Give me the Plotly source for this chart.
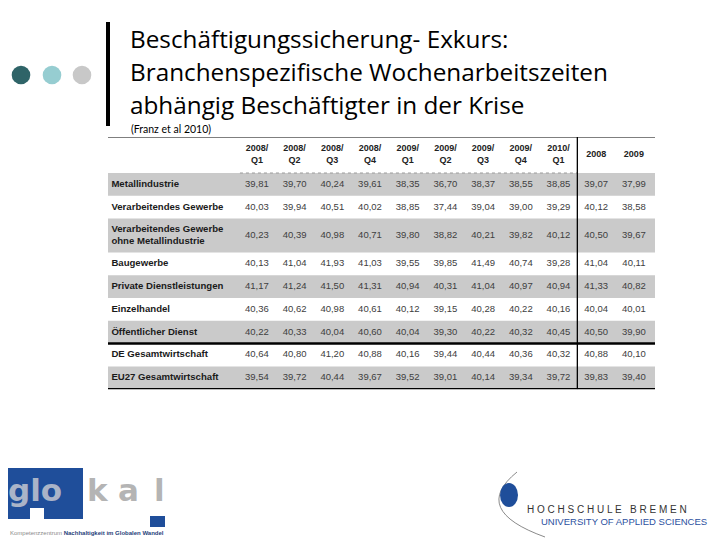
import plotly.graph_objects as go

# slide text
title_lines = ["Beschäftigungssicherung- Exkurs:",
               "Branchenspezifische Wochenarbeitszeiten",
               "abhängig Beschäftigter in der Krise"]
source = "(Franz et al 2010)"

# table data (weekly working hours)
columns = ["2008/<br>Q1", "2008/<br>Q2", "2008/<br>Q3", "2008/<br>Q4",
           "2009/<br>Q1", "2009/<br>Q2", "2009/<br>Q3", "2009/<br>Q4",
           "2010/<br>Q1", "2008", "2009"]

sectors = ["Metallindustrie", "Verarbeitendes Gewerbe",
           "Verarbeitendes Gewerbe<br>ohne Metallindustrie", "Baugewerbe",
           "Private Dienstleistungen", "Einzelhandel", "Öffentlicher Dienst",
           "DE Gesamtwirtschaft", "EU27 Gesamtwirtschaft"]

metall = [39.81, 39.70, 40.24, 39.61, 38.35, 36.70, 38.37, 38.55, 38.85, 39.07, 37.99]
verarb = [40.03, 39.94, 40.51, 40.02, 38.85, 37.44, 39.04, 39.00, 39.29, 40.12, 38.58]
verarb_ohne = [40.23, 40.39, 40.98, 40.71, 39.80, 38.82, 40.21, 39.82, 40.12, 40.50, 39.67]
bau = [40.13, 41.04, 41.93, 41.03, 39.55, 39.85, 41.49, 40.74, 39.28, 41.04, 40.11]
private_dl = [41.17, 41.24, 41.50, 41.31, 40.94, 40.31, 41.04, 40.97, 40.94, 41.33, 40.82]
einzelhandel = [40.36, 40.62, 40.98, 40.61, 40.12, 39.15, 40.28, 40.22, 40.16, 40.04, 40.01]
oeffentlich = [40.22, 40.33, 40.04, 40.60, 40.04, 39.30, 40.22, 40.32, 40.45, 40.50, 39.90]
de_gesamt = [40.64, 40.80, 41.20, 40.88, 40.16, 39.44, 40.44, 40.36, 40.32, 40.88, 40.10]
eu27_gesamt = [39.54, 39.72, 40.44, 39.67, 39.52, 39.01, 40.14, 39.34, 39.72, 39.83, 39.40]

rows = [metall, verarb, verarb_ohne, bau, private_dl, einzelhandel,
        oeffentlich, de_gesamt, eu27_gesamt]

W, H = 720, 540
OFF = 8  # the page body adds an 8px margin around the figure
TABLE_TOP = 137


def px(x):
    return (x - OFF) / W


def py(y):
    return 1 - (y - OFF) / H


# row geometry (in pixels below the top rule)
header_h = 36
tops, heights, centers = [], [], []
y = header_h
for s in sectors:
    h = 22.8 + 11 * s.count("<br>")
    tops.append(y)
    heights.append(h)
    centers.append(y + h / 2)
    y += h
total = y

fig = go.Figure()

# row labels
fig.add_trace(go.Scatter(
    x=[-3.86] * len(sectors), y=centers, mode="text",
    text=["<b>" + s + "</b>" for s in sectors],
    textposition="middle right",
    textfont=dict(family="Liberation Sans", size=9.6, color="#1a1a1a"),
    hoverinfo="skip"))

# header
fig.add_trace(go.Scatter(
    x=list(range(len(columns))), y=[17.5] * len(columns), mode="text",
    text=["<b>" + c + "</b>" for c in columns],
    textposition="middle center",
    textfont=dict(family="Liberation Sans", size=9, color="#222222"),
    hoverinfo="skip"))

# values
xs, ys, txt = [], [], []
for c, vals in zip(centers, rows):
    for i, v in enumerate(vals):
        xs.append(i)
        ys.append(c)
        txt.append(f"{v:.2f}".replace(".", ","))
fig.add_trace(go.Scatter(
    x=xs, y=ys, mode="text", text=txt, textposition="middle center",
    textfont=dict(family="Liberation Sans", size=9.5, color="#404040"),
    hoverinfo="skip"))

shapes = []
# grey bands
for i in range(0, len(sectors), 2):
    shapes.append(dict(type="rect", xref="x domain", yref="y", x0=0, x1=1,
                       y0=tops[i], y1=tops[i] + heights[i],
                       fillcolor="#cacaca", line_width=0, layer="below"))
# rules
shapes.append(dict(type="line", xref="x domain", yref="y", x0=0, x1=1, y0=0, y1=0,
                   line=dict(color="black", width=1)))
shapes.append(dict(type="line", xref="x", yref="y", x0=-0.45, x1=8.5,
                   y0=header_h, y1=header_h,
                   line=dict(color="#9a9a9a", width=1, dash="dot")))
shapes.append(dict(type="line", xref="x domain", yref="y", x0=0, x1=1,
                   y0=tops[7], y1=tops[7], line=dict(color="black", width=2.5)))
shapes.append(dict(type="line", xref="x domain", yref="y", x0=0, x1=1,
                   y0=total, y1=total, line=dict(color="black", width=2.5)))
shapes.append(dict(type="line", xref="x", yref="y", x0=8.5, x1=8.5,
                   y0=0, y1=total, line=dict(color="black", width=1.3)))

# slide decoration: vertical bar and three dots
shapes.append(dict(type="rect", xref="paper", yref="paper",
                   x0=px(106), x1=px(110), y0=py(22), y1=py(126),
                   fillcolor="black", line_width=0))
for cx, col in [(21, "#2f6468"), (52, "#96cdd1"), (82, "#c8c8c8")]:
    shapes.append(dict(type="circle", xref="paper", yref="paper",
                       x0=px(cx - 9.3), x1=px(cx + 9.3),
                       y0=py(75 + 9.3), y1=py(75 - 9.3),
                       fillcolor=col, line_width=0))

# glokal logo
shapes.append(dict(type="rect", xref="paper", yref="paper",
                   x0=px(8), x1=px(83), y0=py(519), y1=py(468),
                   fillcolor="#1f4e9a", line_width=0))
shapes.append(dict(type="rect", xref="paper", yref="paper",
                   x0=px(30), x1=px(44), y0=py(520), y1=py(508),
                   fillcolor="white", line_width=0))
shapes.append(dict(type="rect", xref="paper", yref="paper",
                   x0=px(150), x1=px(165), y0=py(527), y1=py(516),
                   fillcolor="#1f4e9a", line_width=0))

# Hochschule Bremen logo
arc = "M {},{} Q {},{} {},{}".format(px(517), py(472), px(470), py(510),
                                     px(545), py(537))
shapes.append(dict(type="path", xref="paper", yref="paper", path=arc,
                   line=dict(color="#8a8a8a", width=1)))
shapes.append(dict(type="circle", xref="paper", yref="paper",
                   x0=px(500), x1=px(518), y0=py(507), y1=py(483),
                   fillcolor="#1f4e9a", line_width=0))

ann = []
for line, yc in zip(title_lines, [38, 71, 104]):
    ann.append(dict(text=line, x=px(128), y=py(yc), xref="paper", yref="paper",
                    xanchor="left", yanchor="middle", showarrow=False,
                    font=dict(family="Open Sans", size=24.3, color="black")))
ann.append(dict(text=source, x=px(129), y=py(129), xref="paper", yref="paper",
                xanchor="left", yanchor="middle", showarrow=False,
                font=dict(family="Lato", size=10.5, color="black")))

for word, cx, col in [("glo", 35, "#aab4c8"), ("k", 98, "#b4b4b4"),
                      ("a", 128, "#b4b4b4"), ("l", 159, "#b4b4b4")]:
    ann.append(dict(text="<b>" + word + "</b>", x=px(cx), y=py(490),
                    xref="paper", yref="paper",
                    xanchor="center", yanchor="middle", showarrow=False,
                    font=dict(family="DejaVu Sans", size=31, color=col)))
ann.append(dict(text="Kompetenzzentrum <b><span style='color:#1f3f7a'>Nachhaltigkeit im Globalen Wandel</span></b>",
                x=px(8), y=py(533), xref="paper", yref="paper",
                xanchor="left", yanchor="middle", showarrow=False,
                font=dict(family="Liberation Sans", size=6, color="#8a8a8a")))
ann.append(dict(text=" ".join("HOCHSCHULE") + "   " + " ".join("BREMEN"),
                x=px(525), y=py(509), xref="paper", yref="paper",
                xanchor="left", yanchor="middle", showarrow=False,
                font=dict(family="Liberation Sans", size=10, color="#333333")))
ann.append(dict(text="UNIVERSITY OF APPLIED SCIENCES",
                x=px(539), y=py(521), xref="paper", yref="paper",
                xanchor="left", yanchor="middle", showarrow=False,
                font=dict(family="Liberation Sans", size=9.5, color="#2b4fa0")))

fig.update_layout(
    width=W, height=H,
    margin=dict(l=0, r=0, t=0, b=0),
    paper_bgcolor="white", plot_bgcolor="rgba(0,0,0,0)",
    showlegend=False,
    xaxis=dict(domain=[px(108), px(655)], range=[-3.95, 10.56],
               visible=False, fixedrange=True),
    yaxis=dict(domain=[py(TABLE_TOP + total), py(TABLE_TOP)], range=[total, 0],
               visible=False, fixedrange=True),
    shapes=shapes, annotations=ann)

fig.write_html("out.html")
